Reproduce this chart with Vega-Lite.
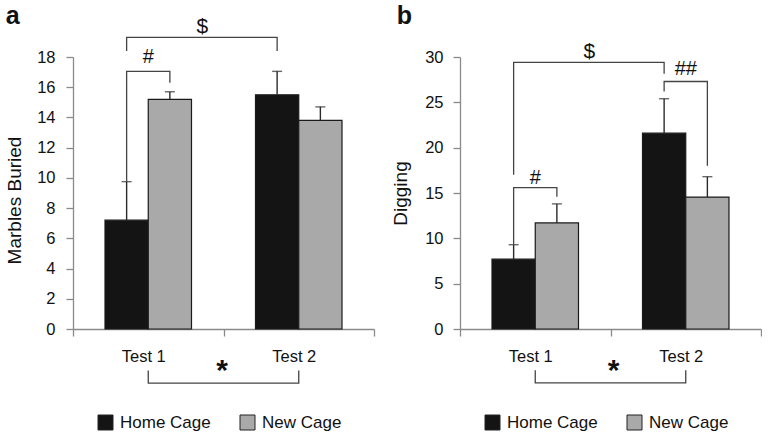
{
  "$schema": "https://vega.github.io/schema/vega-lite/v6.json",
  "padding": {"left": 5, "top": 3, "right": 0, "bottom": 0},
  "background": "white",
  "config": {
    "font": "Liberation Sans",
    "view": {"stroke": null},
    "axis": {
      "grid": false, "domainColor": "#8a8a8a", "tickColor": "#8a8a8a", "domainWidth": 1.3, "tickWidth": 1.3,
      "tickSize": 7, "labelColor": "#111", "labelFont": "Liberation Sans", "labelFontSize": 16.5, "labelOverlap": false,
      "titleFont": "Liberation Sans", "titleFontSize": 19, "titleFontWeight": "normal", "titleColor": "#111"
    },
    "legend": {"labelFont": "Liberation Sans", "labelFontSize": 17, "labelColor": "#111"},
    "title": {"font": "Liberation Sans", "fontSize": 25, "fontWeight": "bold", "color": "#111", "anchor": "start", "frame": "bounds"}
  },
  "datasets": {
    "bars": [
      {"panel": "a", "test": "Test 1", "cage": "Home Cage", "value": 7.2, "err": 9.75},
      {"panel": "a", "test": "Test 1", "cage": "New Cage", "value": 15.2, "err": 15.7},
      {"panel": "a", "test": "Test 2", "cage": "Home Cage", "value": 15.5, "err": 17.05},
      {"panel": "a", "test": "Test 2", "cage": "New Cage", "value": 13.8, "err": 14.7},
      {"panel": "b", "test": "Test 1", "cage": "Home Cage", "value": 7.7, "err": 9.3},
      {"panel": "b", "test": "Test 1", "cage": "New Cage", "value": 11.7, "err": 13.8},
      {"panel": "b", "test": "Test 2", "cage": "Home Cage", "value": 21.6, "err": 25.4},
      {"panel": "b", "test": "Test 2", "cage": "New Cage", "value": 14.55, "err": 16.8}
    ],
    "brk": [
      {"panel": "a", "id": "dollar", "ord": 1, "test": "Test 1", "cage": "Home Cage", "v": 18.4},
      {"panel": "a", "id": "dollar", "ord": 2, "test": "Test 1", "cage": "Home Cage", "v": 19.3},
      {"panel": "a", "id": "dollar", "ord": 3, "test": "Test 2", "cage": "Home Cage", "v": 19.3},
      {"panel": "a", "id": "dollar", "ord": 4, "test": "Test 2", "cage": "Home Cage", "v": 18.4},
      {"panel": "a", "id": "hash", "ord": 1, "test": "Test 1", "cage": "Home Cage", "v": 9.75},
      {"panel": "a", "id": "hash", "ord": 2, "test": "Test 1", "cage": "Home Cage", "v": 17.05},
      {"panel": "a", "id": "hash", "ord": 3, "test": "Test 1", "cage": "New Cage", "v": 17.05},
      {"panel": "a", "id": "hash", "ord": 4, "test": "Test 1", "cage": "New Cage", "v": 16.3},
      {"panel": "b", "id": "dollar", "ord": 1, "test": "Test 1", "cage": "Home Cage", "v": 17.0},
      {"panel": "b", "id": "dollar", "ord": 2, "test": "Test 1", "cage": "Home Cage", "v": 29.4},
      {"panel": "b", "id": "dollar", "ord": 3, "test": "Test 2", "cage": "Home Cage", "v": 29.4},
      {"panel": "b", "id": "dollar", "ord": 4, "test": "Test 2", "cage": "Home Cage", "v": 28.15},
      {"panel": "b", "id": "hash2", "ord": 1, "test": "Test 2", "cage": "Home Cage", "v": 26.2},
      {"panel": "b", "id": "hash2", "ord": 2, "test": "Test 2", "cage": "Home Cage", "v": 27.3},
      {"panel": "b", "id": "hash2", "ord": 3, "test": "Test 2", "cage": "New Cage", "v": 27.3},
      {"panel": "b", "id": "hash2", "ord": 4, "test": "Test 2", "cage": "New Cage", "v": 18.0},
      {"panel": "b", "id": "hash", "ord": 1, "test": "Test 1", "cage": "Home Cage", "v": 9.3},
      {"panel": "b", "id": "hash", "ord": 2, "test": "Test 1", "cage": "Home Cage", "v": 15.6},
      {"panel": "b", "id": "hash", "ord": 3, "test": "Test 1", "cage": "New Cage", "v": 15.6},
      {"panel": "b", "id": "hash", "ord": 4, "test": "Test 1", "cage": "New Cage", "v": 14.6}
    ],
    "star": [
      {"panel": "a", "ord": 1, "test": "Test 1", "v": -2.74},
      {"panel": "a", "ord": 2, "test": "Test 1", "v": -3.58},
      {"panel": "a", "ord": 3, "test": "Test 2", "v": -3.58},
      {"panel": "a", "ord": 4, "test": "Test 2", "v": -2.74},
      {"panel": "b", "ord": 1, "test": "Test 1", "v": -4.56},
      {"panel": "b", "ord": 2, "test": "Test 1", "v": -5.95},
      {"panel": "b", "ord": 3, "test": "Test 2", "v": -5.95},
      {"panel": "b", "ord": 4, "test": "Test 2", "v": -4.56}
    ],
    "txt": [
      {"panel": "a", "kind": "hash", "test": "Test 1", "v": 18.0, "t": "#"},
      {"panel": "a", "kind": "dollar", "test": "Test 1", "v": 20.0, "t": "$"},
      {"panel": "a", "kind": "star", "test": "Test 1", "v": -2.76, "t": "*"},
      {"panel": "b", "kind": "hash", "test": "Test 1", "v": 16.65, "t": "#"},
      {"panel": "b", "kind": "hash", "test": "Test 2", "v": 28.7, "t": "##"},
      {"panel": "b", "kind": "dollar", "test": "Test 1", "v": 30.6, "t": "$"},
      {"panel": "b", "kind": "star", "test": "Test 1", "v": -4.6, "t": "*"}
    ]
  },
  "resolve": {"scale": {"color": "independent", "y": "independent"}},
  "spacing": 16,
  "hconcat": [
    {
      "title": {"text": "a", "offset": -13},
      "width": 301,
      "height": 272,
      "layer": [
        {
          "data": {"name": "bars"},
          "transform": [{"filter": "datum.panel === 'a'"}],
          "mark": {"type": "bar", "stroke": "#1a1a1a", "strokeWidth": 1.2},
          "encoding": {
            "x": {"field": "test", "type": "nominal", "scale": {"domain": ["Test 1", "Test 2"], "paddingInner": 0, "paddingOuter": 0},
              "axis": {"title": null, "labelAngle": 0, "tickBand": "extent", "labelOffset": -5, "labelPadding": 12}},
            "xOffset": {"field": "cage", "type": "nominal", "scale": {"domain": ["Home Cage", "New Cage"], "paddingInner": 0, "paddingOuter": 0.74}},
            "y": {"field": "value", "type": "quantitative", "scale": {"domain": [0, 18], "nice": false},
              "axis": {"title": "Marbles Buried", "values": [0, 2, 4, 6, 8, 10, 12, 14, 16, 18], "labelOverlap": false, "labelPadding": 11, "titlePadding": 12, "titleY": 143}},
            "color": {"field": "cage", "type": "nominal", "scale": {"domain": ["Home Cage", "New Cage"], "range": ["#141414", "#a9a9a9"]},
              "legend": {"title": null, "orient": "none", "legendX": 24, "legendY": 357, "direction": "horizontal", "symbolType": "square", "symbolSize": 225, "symbolStrokeColor": "#222", "symbolStrokeWidth": 1, "labelOffset": 6, "columnPadding": 27}}
          }
        },
        {
          "data": {"name": "bars"},
          "transform": [{"filter": "datum.panel === 'a'"}],
          "mark": {"type": "rule", "color": "#2a2a2a", "strokeWidth": 1.4},
          "encoding": {
            "x": {"field": "test", "type": "nominal"},
            "xOffset": {"field": "cage", "type": "nominal"},
            "y": {"field": "value", "type": "quantitative",
              "axis": {"title": "Marbles Buried", "values": [0, 2, 4, 6, 8, 10, 12, 14, 16, 18], "labelOverlap": false, "labelPadding": 11, "titlePadding": 12, "titleY": 143}},
            "y2": {"field": "err"}
          }
        },
        {
          "data": {"name": "bars"},
          "transform": [{"filter": "datum.panel === 'a'"}],
          "mark": {"type": "tick", "color": "#2a2a2a", "thickness": 1.4, "size": 10, "orient": "horizontal"},
          "encoding": {
            "x": {"field": "test", "type": "nominal"},
            "xOffset": {"field": "cage", "type": "nominal"},
            "y": {"field": "err", "type": "quantitative",
              "axis": {"title": "Marbles Buried", "values": [0, 2, 4, 6, 8, 10, 12, 14, 16, 18], "labelOverlap": false, "labelPadding": 11, "titlePadding": 12, "titleY": 143}}
          }
        },
        {
          "data": {"name": "brk"},
          "transform": [{"filter": "datum.panel === 'a'"}],
          "mark": {"type": "line", "color": "#444", "strokeWidth": 1.3, "interpolate": "linear"},
          "encoding": {
            "x": {"field": "test", "type": "nominal"},
            "xOffset": {"field": "cage", "type": "nominal"},
            "y": {"field": "v", "type": "quantitative",
              "axis": {"title": "Marbles Buried", "values": [0, 2, 4, 6, 8, 10, 12, 14, 16, 18], "labelOverlap": false, "labelPadding": 11, "titlePadding": 12, "titleY": 143}},
            "detail": {"field": "id"},
            "order": {"field": "ord", "type": "quantitative"}
          }
        },
        {
          "data": {"name": "star"},
          "transform": [{"filter": "datum.panel === 'a'"}],
          "mark": {"type": "line", "color": "#444", "strokeWidth": 1.3},
          "encoding": {
            "x": {"field": "test", "type": "nominal"},
            "y": {"field": "v", "type": "quantitative",
              "axis": {"title": "Marbles Buried", "values": [0, 2, 4, 6, 8, 10, 12, 14, 16, 18], "labelOverlap": false, "labelPadding": 11, "titlePadding": 12, "titleY": 143}},
            "order": {"field": "ord", "type": "quantitative"}
          }
        },
        {
          "data": {"name": "txt"},
          "transform": [{"filter": "datum.panel === 'a' && datum.kind === 'hash'"}],
          "mark": {"type": "text", "fontSize": 20, "baseline": "middle", "color": "#111"},
          "encoding": {
            "x": {"field": "test", "type": "nominal", "bandPosition": 0.5},
            "y": {"field": "v", "type": "quantitative",
              "axis": {"title": "Marbles Buried", "values": [0, 2, 4, 6, 8, 10, 12, 14, 16, 18], "labelOverlap": false, "labelPadding": 11, "titlePadding": 12, "titleY": 143}},
            "text": {"field": "t"}
          }
        },
        {
          "data": {"name": "txt"},
          "transform": [{"filter": "datum.panel === 'a' && datum.kind === 'dollar'"}],
          "mark": {"type": "text", "fontSize": 21, "baseline": "middle", "color": "#111"},
          "encoding": {
            "x": {"field": "test", "type": "nominal", "bandPosition": 0.86},
            "y": {"field": "v", "type": "quantitative",
              "axis": {"title": "Marbles Buried", "values": [0, 2, 4, 6, 8, 10, 12, 14, 16, 18], "labelOverlap": false, "labelPadding": 11, "titlePadding": 12, "titleY": 143}},
            "text": {"field": "t"}
          }
        },
        {
          "data": {"name": "txt"},
          "transform": [{"filter": "datum.panel === 'a' && datum.kind === 'star'"}],
          "mark": {"type": "text", "fontSize": 30, "fontWeight": "bold", "baseline": "middle", "color": "#111"},
          "encoding": {
            "x": {"field": "test", "type": "nominal", "bandPosition": 0.99},
            "y": {"field": "v", "type": "quantitative",
              "axis": {"title": "Marbles Buried", "values": [0, 2, 4, 6, 8, 10, 12, 14, 16, 18], "labelOverlap": false, "labelPadding": 11, "titlePadding": 12, "titleY": 143}},
            "text": {"field": "t"}
          }
        }
      ]
    },
    {
      "title": {"text": "b", "offset": 12, "dx": 5},
      "width": 301,
      "height": 272,
      "layer": [
        {
          "data": {"name": "bars"},
          "transform": [{"filter": "datum.panel === 'b'"}],
          "mark": {"type": "bar", "stroke": "#1a1a1a", "strokeWidth": 1.2},
          "encoding": {
            "x": {"field": "test", "type": "nominal", "scale": {"domain": ["Test 1", "Test 2"], "paddingInner": 0, "paddingOuter": 0},
              "axis": {"title": null, "labelAngle": 0, "tickBand": "extent", "labelOffset": -5, "labelPadding": 12}},
            "xOffset": {"field": "cage", "type": "nominal", "scale": {"domain": ["Home Cage", "New Cage"], "paddingInner": 0, "paddingOuter": 0.74}},
            "y": {"field": "value", "type": "quantitative", "scale": {"domain": [0, 30], "nice": false},
              "axis": {"title": "Digging", "values": [0, 5, 10, 15, 20, 25, 30], "labelOverlap": false, "labelPadding": 10, "titlePadding": 14}},
            "color": {"field": "cage", "type": "nominal", "scale": {"domain": ["Home Cage", "New Cage"], "range": ["#141414", "#a9a9a9"]},
              "legend": {"title": null, "orient": "none", "legendX": 24, "legendY": 357, "direction": "horizontal", "symbolType": "square", "symbolSize": 225, "symbolStrokeColor": "#222", "symbolStrokeWidth": 1, "labelOffset": 6, "columnPadding": 27}}
          }
        },
        {
          "data": {"name": "bars"},
          "transform": [{"filter": "datum.panel === 'b'"}],
          "mark": {"type": "rule", "color": "#2a2a2a", "strokeWidth": 1.4},
          "encoding": {
            "x": {"field": "test", "type": "nominal"},
            "xOffset": {"field": "cage", "type": "nominal"},
            "y": {"field": "value", "type": "quantitative",
              "axis": {"title": "Digging", "values": [0, 5, 10, 15, 20, 25, 30], "labelOverlap": false, "labelPadding": 10, "titlePadding": 14}},
            "y2": {"field": "err"}
          }
        },
        {
          "data": {"name": "bars"},
          "transform": [{"filter": "datum.panel === 'b'"}],
          "mark": {"type": "tick", "color": "#2a2a2a", "thickness": 1.4, "size": 10, "orient": "horizontal"},
          "encoding": {
            "x": {"field": "test", "type": "nominal"},
            "xOffset": {"field": "cage", "type": "nominal"},
            "y": {"field": "err", "type": "quantitative",
              "axis": {"title": "Digging", "values": [0, 5, 10, 15, 20, 25, 30], "labelOverlap": false, "labelPadding": 10, "titlePadding": 14}}
          }
        },
        {
          "data": {"name": "brk"},
          "transform": [{"filter": "datum.panel === 'b'"}],
          "mark": {"type": "line", "color": "#444", "strokeWidth": 1.3, "interpolate": "linear"},
          "encoding": {
            "x": {"field": "test", "type": "nominal"},
            "xOffset": {"field": "cage", "type": "nominal"},
            "y": {"field": "v", "type": "quantitative",
              "axis": {"title": "Digging", "values": [0, 5, 10, 15, 20, 25, 30], "labelOverlap": false, "labelPadding": 10, "titlePadding": 14}},
            "detail": {"field": "id"},
            "order": {"field": "ord", "type": "quantitative"}
          }
        },
        {
          "data": {"name": "star"},
          "transform": [{"filter": "datum.panel === 'b'"}],
          "mark": {"type": "line", "color": "#444", "strokeWidth": 1.3},
          "encoding": {
            "x": {"field": "test", "type": "nominal"},
            "y": {"field": "v", "type": "quantitative",
              "axis": {"title": "Digging", "values": [0, 5, 10, 15, 20, 25, 30], "labelOverlap": false, "labelPadding": 10, "titlePadding": 14}},
            "order": {"field": "ord", "type": "quantitative"}
          }
        },
        {
          "data": {"name": "txt"},
          "transform": [{"filter": "datum.panel === 'b' && datum.kind === 'hash'"}],
          "mark": {"type": "text", "fontSize": 20, "baseline": "middle", "color": "#111"},
          "encoding": {
            "x": {"field": "test", "type": "nominal", "bandPosition": 0.5},
            "y": {"field": "v", "type": "quantitative",
              "axis": {"title": "Digging", "values": [0, 5, 10, 15, 20, 25, 30], "labelOverlap": false, "labelPadding": 10, "titlePadding": 14}},
            "text": {"field": "t"}
          }
        },
        {
          "data": {"name": "txt"},
          "transform": [{"filter": "datum.panel === 'b' && datum.kind === 'dollar'"}],
          "mark": {"type": "text", "fontSize": 21, "baseline": "middle", "color": "#111"},
          "encoding": {
            "x": {"field": "test", "type": "nominal", "bandPosition": 0.86},
            "y": {"field": "v", "type": "quantitative",
              "axis": {"title": "Digging", "values": [0, 5, 10, 15, 20, 25, 30], "labelOverlap": false, "labelPadding": 10, "titlePadding": 14}},
            "text": {"field": "t"}
          }
        },
        {
          "data": {"name": "txt"},
          "transform": [{"filter": "datum.panel === 'b' && datum.kind === 'star'"}],
          "mark": {"type": "text", "fontSize": 30, "fontWeight": "bold", "baseline": "middle", "color": "#111"},
          "encoding": {
            "x": {"field": "test", "type": "nominal", "bandPosition": 1.02},
            "y": {"field": "v", "type": "quantitative",
              "axis": {"title": "Digging", "values": [0, 5, 10, 15, 20, 25, 30], "labelOverlap": false, "labelPadding": 10, "titlePadding": 14}},
            "text": {"field": "t"}
          }
        }
      ]
    }
  ]
}
